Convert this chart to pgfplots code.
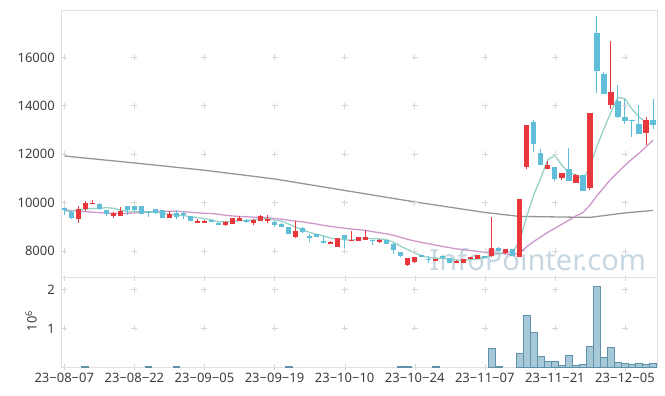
\documentclass[border=0pt]{standalone}
\usepackage{fontspec}
\setmainfont{Noto Sans}
\usepackage{pgfplots}
\usepackage{pgfplotstable}
\pgfplotsset{compat=1.18}
\definecolor{cRed}{RGB}{233,55,62}
\definecolor{cBlue}{RGB}{96,190,216}
\definecolor{cMA5}{RGB}{140,205,192}
\definecolor{cMA20}{RGB}{200,140,196}
\definecolor{cMA120}{RGB}{150,150,150}
\definecolor{cVol}{RGB}{150,190,208}
\definecolor{cVolEdge}{RGB}{95,145,170}
\definecolor{cFrame}{RGB}{224,224,224}
\definecolor{cGrid}{RGB}{215,215,215}
\definecolor{cWM}{RGB}{198,215,226}
\definecolor{cTxt}{RGB}{60,60,60}

\pgfplotstableread{
x O H L C
2 9335 9860 9170 9720
3 9720 10060 9630 10000
4 9930 10110 9930 9990
7 9430 9590 9350 9580
8 9460 9820 9440 9650
15 9375 9660 9370 9530
19 9170 9300 9160 9250
20 9170 9260 9160 9250
23 9085 9220 9040 9210
24 9130 9380 9120 9375
25 9250 9450 9240 9375
27 9145 9300 9060 9295
28 9250 9470 9240 9460
29 9250 9480 9150 9330
33 8590 9240 8530 8826
38 8275 8390 8270 8385
39 8180 8530 8170 8525
41 8400 8840 8390 8470
42 8420 8590 8410 8580
43 8460 8880 8450 8590
45 8380 8500 8320 8450
49 7400 7720 7390 7710
50 7560 7750 7500 7745
53 7580 7680 7570 7660
56 7490 7610 7480 7600
57 7490 7660 7480 7655
58 7680 7750 7670 7740
59 7670 7840 7660 7835
61 7795 9390 7760 8140
63 7900 8090 7890 8080
65 7750 10160 7740 10150
66 11470 13210 11400 13200
69 11390 11700 11380 11550
71 11030 11220 10930 11210
73 10800 11160 10790 11140
75 10590 13700 10530 13690
78 14030 16680 13860 14580
83 12890 13520 12390 13410
}\redtab

\pgfplotstableread{
x O H L C
0 9790 9830 9500 9710
1 9620 9650 9300 9340
5 9955 9980 9700 9720
6 9680 9690 9440 9515
9 9860 9860 9500 9680
10 9860 9860 9660 9680
11 9860 9860 9530 9530
12 9620 9640 9400 9560
13 9720 9720 9540 9560
14 9690 9700 9370 9375
16 9580 9700 9300 9400
17 9560 9650 9300 9480
18 9430 9440 9240 9250
21 9270 9280 9180 9190
22 9170 9180 9060 9085
26 9290 9300 9170 9180
30 9210 9220 9000 9085
31 9130 9140 8980 8990
32 8990 9000 8680 8690
34 8960 8970 8760 8770
35 8630 8700 8380 8550
36 8690 8700 8580 8590
37 8425 8600 8340 8345
40 8660 8670 8140 8480
44 8455 8460 8250 8390
46 8455 8460 8290 8300
47 8300 8310 7890 8040
48 7940 7950 7760 7775
51 7830 7840 7740 7750
52 7680 7780 7480 7640
54 7780 7790 7680 7690
55 7710 7720 7500 7515
60 7780 7790 7710 7720
62 8140 8150 7990 8000
64 8070 8080 7780 7790
67 13330 13400 12080 12435
68 12040 12200 11540 11550
70 11460 11470 10890 10960
72 11375 12250 10880 10890
74 11140 11150 10480 10490
76 17020 17720 14515 15450
77 15310 15400 14480 14490
79 14200 14860 13500 13525
80 13550 14300 13260 13385
81 13410 13420 12720 13360
82 13250 14025 12840 12850
84 13410 14290 13040 13200
}\bluetab

\pgfplotstableread{
x v
0 9650
1 9640
2 9680
3 9730
4 9752
5 9754
6 9789
7 9761
8 9691
9 9629
10 9621
11 9624
12 9620
13 9602
14 9541
15 9511
16 9485
17 9469
18 9407
19 9382
20 9326
21 9284
22 9205
23 9197
24 9222
25 9247
26 9245
27 9287
28 9337
29 9328
30 9270
31 9232
32 9111
33 8984
34 8872
35 8765
36 8685
37 8616
38 8528
39 8479
40 8465
41 8441
42 8488
43 8529
44 8502
45 8496
46 8462
47 8354
48 8191
49 8055
50 7914
51 7804
52 7724
53 7701
54 7697
55 7651
56 7621
57 7624
58 7640
59 7669
60 7710
61 7818
62 7887
63 7955
64 7946
65 8432
66 9444
67 10331
68 11025
69 11777
70 11939
71 11541
72 11232
73 11150
74 10938
75 11484
76 12332
77 13052
78 13740
79 14347
80 14286
81 13868
82 13540
83 13306
84 13241
}\mafive

\pgfplotstableread{
x v
0 9690
2 9650
4 9600
6 9560
8 9540
10 9570
12 9610
14 9640
16 9640
18 9600
19 9576
20 9553
21 9546
22 9514
23 9474
24 9444
25 9426
26 9410
27 9395
28 9386
29 9368
30 9339
31 9312
32 9268
33 9231
34 9201
35 9152
36 9112
37 9055
38 9012
39 8975
40 8937
41 8901
42 8876
43 8845
44 8795
45 8749
46 8705
47 8642
48 8558
49 8477
50 8410
51 8348
52 8296
53 8237
54 8183
55 8132
56 8082
57 8048
58 8015
59 7981
60 7943
61 7926
62 7897
63 7872
64 7842
65 7927
66 8172
67 8392
68 8580
69 8772
70 8933
71 9106
72 9269
73 9443
74 9583
75 9891
76 10284
77 10626
78 10968
79 11252
80 11535
81 11796
82 12039
83 12305
84 12576
}\matwenty

\pgfplotstableread{
x v
0 11925
10 11636
20 11335
30 10975
40 10500
50 10025
60 9590
65 9425
70 9405
75 9385
80 9570
84 9675
}\mahundred

\pgfplotstableread{
x v
3 0.015
12 0.015
16 0.015
32 0.015
48 0.015
49 0.015
53 0.015
61 0.49
62 0.02
65 0.36
66 1.34
67 0.90
68 0.28
69 0.14
70 0.16
71 0.05
72 0.31
73 0.05
74 0.07
75 0.54
76 2.08
77 0.26
78 0.51
79 0.13
80 0.10
81 0.08
82 0.10
83 0.08
84 0.10
}\voltab

\pgfplotsset{
  common/.style={
    scale only axis, width=596pt,
    xmin=-0.47, xmax=84.57,
    axis line style={draw=cFrame},
    xtick={0,10,...,80},
    tick align=center, major tick length=6pt,
    xtick style={draw=cGrid},
    ytick style={draw=none},
    xtick pos=bottom,
    scaled y ticks=false,
    yticklabel style={font=\fontsize{13}{15}\selectfont, text=cTxt, inner sep=3pt},
    xticklabel style={font=\fontsize{13}{15}\selectfont, text=cTxt, inner sep=3pt},
    /pgf/number format/.cd, 1000 sep={}, assume math mode=true,
  },
  candle/.style 2 args={forget plot, draw=none, mark=none,
    error bars/.cd, y dir=plus, y explicit, error mark=none,
    error bar style={draw=#1, line width=#2}},
}

\begin{document}
\begin{tikzpicture}
\useasboundingbox (0pt,0pt) rectangle (665pt,-396pt);
\begin{axis}[common, at={(61pt,-10pt)}, anchor=north west, height=267.5pt,
  ymin=6900, ymax=17960, ytick={8000,10000,12000,14000,16000},
  xticklabels={}]
  \node[anchor=base, font=\fontsize{29}{30}\selectfont, text=cWM] at (rel axis cs:0.8,0.028) {InfoPointer.com};
  \pgfplotsinvokeforeach{0,10,20,30,40,50,60,70,80}{
    \addplot[forget plot, only marks, mark=+, mark size=3pt, draw=cGrid, line width=0.6pt]
      coordinates {(#1,8000) (#1,10000) (#1,12000) (#1,14000) (#1,16000)};
  }
  \addplot[forget plot, cMA120, line width=1.3pt] table[x=x,y=v] {\mahundred};
  \addplot[forget plot, cMA20, line width=1.3pt, opacity=0.9] table[x=x,y=v] {\matwenty};
  \addplot[forget plot, cMA5, line width=1.3pt, opacity=0.9] table[x=x,y=v] {\mafive};
  % red candles
  \addplot[candle={cRed}{1pt}]
    table[x=x, y=L, y error plus expr={\thisrow{H}-\thisrow{L}}] {\redtab};
  \addplot[candle={cRed}{5.2pt}]
    table[x=x, y=O, y error plus expr={\thisrow{C}-\thisrow{O}}] {\redtab};
  % blue candles
  \addplot[candle={cBlue}{1pt}]
    table[x=x, y=L, y error plus expr={\thisrow{H}-\thisrow{L}}] {\bluetab};
  \addplot[candle={cBlue}{5.2pt}]
    table[x=x, y=C, y error plus expr={\thisrow{O}-\thisrow{C}}] {\bluetab};
\end{axis}
\begin{axis}[common, at={(61pt,-277.5pt)}, anchor=north west, height=89.8pt,
  ymin=0, ymax=2.31, ytick={1,2},
  xticklabels={23−08−07,23−08−22,23−09−05,23−09−19,23−10−10,23−10−24,23−11−07,23−11−21,23−12−05},
  ylabel={10\textsuperscript{6}},
  ylabel style={at={(axis description cs:-0.05,0.516)}, anchor=center, font=\fontsize{13}{15}\selectfont, text=cTxt}]
  \pgfplotsinvokeforeach{0,10,20,30,40,50,60,70,80}{
    \addplot[forget plot, only marks, mark=+, mark size=3pt, draw=cGrid, line width=0.6pt]
      coordinates {(#1,1) (#1,2)};
  }
  \addplot[forget plot, ybar, bar width=0.98, fill=cVol, fill opacity=0.85, draw=cVolEdge, line width=0.8pt]
    table[x=x,y=v] {\voltab};
\end{axis}
\end{tikzpicture}
\end{document}
